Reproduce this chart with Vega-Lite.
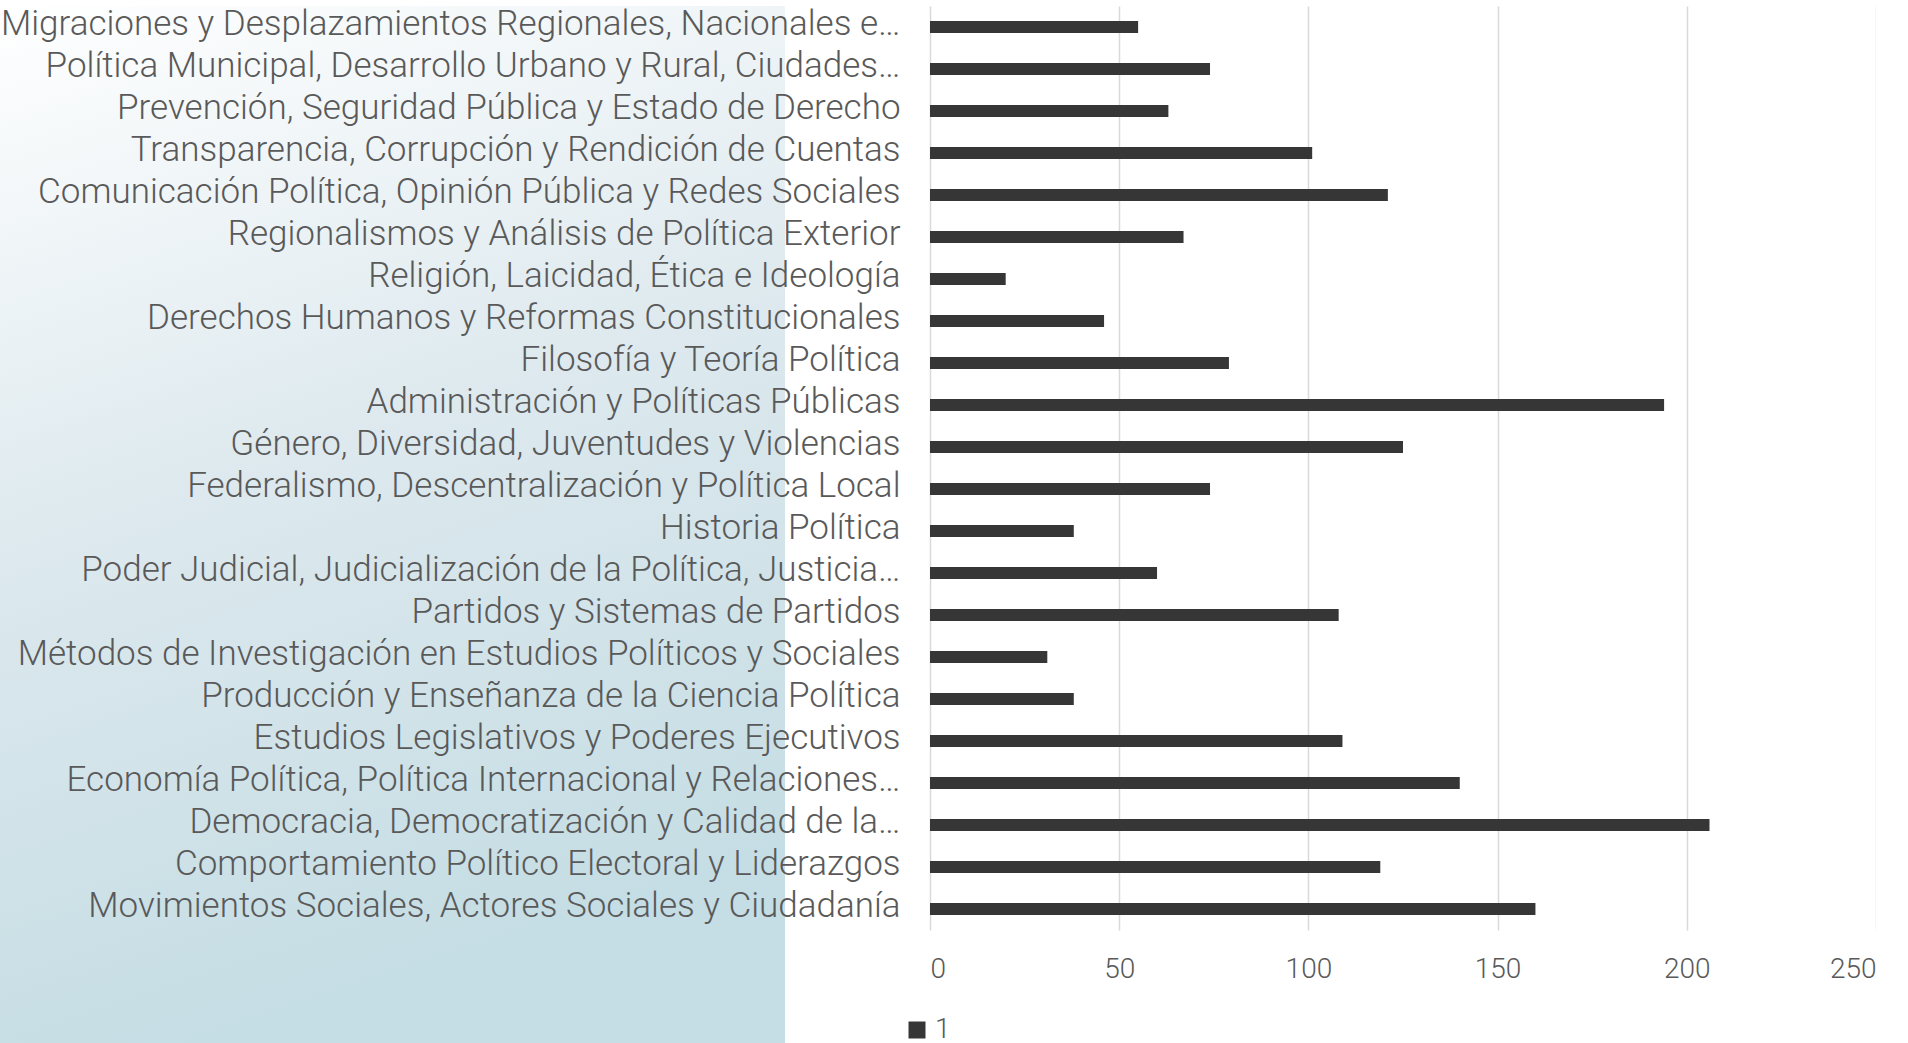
{
  "$schema": "https://vega.github.io/schema/vega-lite/v6.json",
  "padding": {"left": 0, "top": 6, "right": 0, "bottom": 0},
  "background": "white",
  "bounds": "flush",
  "spacing": 145,
  "config": {"font": "Roboto", "view": {"stroke": null}},
  "hconcat": [
    {
      "data": {"values": [{}]},
      "width": 785,
      "height": 1037,
      "view": {
        "stroke": null,
        "fill": {
          "gradient": "linear", "x1": 0, "y1": 0, "x2": 0.25, "y2": 1,
          "stops": [
            {"offset": 0, "color": "#ffffff"},
            {"offset": 0.5, "color": "#dde9ee"},
            {"offset": 1, "color": "#c5dde4"}
          ]
        }
      },
      "mark": {"type": "point", "opacity": 0},
      "encoding": {}
    },
    {
      "data": {"values": [
        {"tema": "Migraciones y Desplazamientos Regionales, Nacionales e…", "n": 55, "series": "1"},
        {"tema": "Política Municipal, Desarrollo Urbano y Rural, Ciudades…", "n": 74, "series": "1"},
        {"tema": "Prevención, Seguridad Pública y Estado de Derecho", "n": 63, "series": "1"},
        {"tema": "Transparencia, Corrupción y Rendición de Cuentas", "n": 101, "series": "1"},
        {"tema": "Comunicación Política, Opinión Pública y Redes Sociales", "n": 121, "series": "1"},
        {"tema": "Regionalismos y Análisis de Política Exterior", "n": 67, "series": "1"},
        {"tema": "Religión, Laicidad, Ética e Ideología", "n": 20, "series": "1"},
        {"tema": "Derechos Humanos y Reformas Constitucionales", "n": 46, "series": "1"},
        {"tema": "Filosofía y Teoría Política", "n": 79, "series": "1"},
        {"tema": "Administración y Políticas Públicas", "n": 194, "series": "1"},
        {"tema": "Género, Diversidad, Juventudes y Violencias", "n": 125, "series": "1"},
        {"tema": "Federalismo, Descentralización y Política Local", "n": 74, "series": "1"},
        {"tema": "Historia Política", "n": 38, "series": "1"},
        {"tema": "Poder Judicial, Judicialización de la Política, Justicia…", "n": 60, "series": "1"},
        {"tema": "Partidos y Sistemas de Partidos", "n": 108, "series": "1"},
        {"tema": "Métodos de Investigación en Estudios Políticos y Sociales", "n": 31, "series": "1"},
        {"tema": "Producción y Enseñanza de la Ciencia Política", "n": 38, "series": "1"},
        {"tema": "Estudios Legislativos y Poderes Ejecutivos", "n": 109, "series": "1"},
        {"tema": "Economía Política, Política Internacional y Relaciones…", "n": 140, "series": "1"},
        {"tema": "Democracia, Democratización y Calidad de la…", "n": 206, "series": "1"},
        {"tema": "Comportamiento Político Electoral y Liderazgos", "n": 119, "series": "1"},
        {"tema": "Movimientos Sociales, Actores Sociales y Ciudadanía", "n": 160, "series": "1"}
      ]},
      "width": 946,
      "height": 924,
      "mark": {"type": "bar"},
      "encoding": {
        "y": {
          "field": "tema", "type": "nominal", "sort": null,
          "scale": {"paddingInner": 0.714, "paddingOuter": 0.357},
          "axis": {
            "title": null, "domain": false, "ticks": false, "labelPadding": 30,
            "labelLimit": 0, "labelFontSize": 35, "labelFontWeight": 300,
            "labelColor": "#595959", "labelOffset": -3,
            "encode": {"labels": {"update": {"dx": {"value": 30}}}}
          }
        },
        "x": {
          "field": "n", "type": "quantitative",
          "scale": {"domain": [0, 250]},
          "axis": {
            "title": null, "values": [0, 50, 100, 150, 200, 250],
            "domain": false, "ticks": false, "grid": true,
            "gridColor": "#d9d9d9", "gridWidth": 1.5,
            "labelPadding": 25, "labelFontSize": 28, "labelFontWeight": 300,
            "labelColor": "#595959"
          }
        },
        "color": {
          "field": "series", "type": "nominal",
          "scale": {"range": ["#363636"]},
          "legend": {
            "title": null, "orient": "none", "legendX": 903, "legendY": 1010,
            "symbolType": "square", "symbolSize": 289, "symbolStrokeWidth": 0,
            "labelFontSize": 28, "labelFontWeight": 300, "labelColor": "#595959"
          }
        }
      }
    }
  ]
}
